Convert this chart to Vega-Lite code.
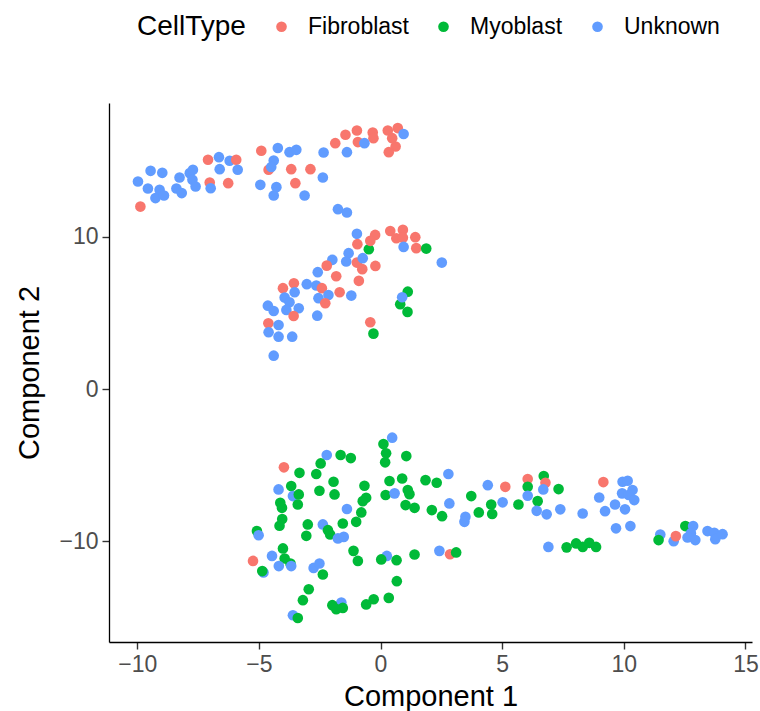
{
  "$schema": "https://vega.github.io/schema/vega-lite/v6.json",
  "width": 643,
  "height": 539,
  "autosize": {"type": "none"},
  "padding": {"left": 109, "top": 103, "right": 8, "bottom": 69},
  "background": "white",
  "config": {
    "font": "Liberation Sans",
    "view": {"stroke": null},
    "axis": {
      "grid": false,
      "domainColor": "black",
      "domainWidth": 1.3,
      "tickColor": "#333333",
      "tickWidth": 1.4,
      "tickSize": 7,
      "labelColor": "#4D4D4D",
      "labelFontSize": 23,
      "labelFont": "Liberation Sans",
      "titleFont": "Liberation Sans",
      "titleFontSize": 29,
      "titleFontWeight": "normal",
      "titleColor": "black"
    },
    "legend": {
      "orient": "none",
      "legendX": 28,
      "legendY": -88,
      "direction": "horizontal",
      "titleOrient": "left",
      "titleFontSize": 28,
      "titleFontWeight": "normal",
      "titleColor": "black",
      "titleFont": "Liberation Sans",
      "titlePadding": 24,
      "labelFontSize": 23,
      "labelColor": "black",
      "labelFont": "Liberation Sans",
      "labelOffset": 15,
      "columnPadding": 23,
      "symbolType": "circle",
      "symbolSize": 113,
      "symbolStrokeWidth": 0
    }
  },
  "data": {"values": [
    {"Component1": -9.97, "Component2": 13.64, "CellType": "Unknown"},
    {"Component1": -9.87, "Component2": 11.99, "CellType": "Fibroblast"},
    {"Component1": -9.45, "Component2": 14.34, "CellType": "Unknown"},
    {"Component1": -8.97, "Component2": 14.21, "CellType": "Unknown"},
    {"Component1": -9.56, "Component2": 13.18, "CellType": "Unknown"},
    {"Component1": -9.08, "Component2": 13.09, "CellType": "Unknown"},
    {"Component1": -9.25, "Component2": 12.55, "CellType": "Unknown"},
    {"Component1": -8.9, "Component2": 12.72, "CellType": "Unknown"},
    {"Component1": -8.39, "Component2": 13.18, "CellType": "Unknown"},
    {"Component1": -8.17, "Component2": 12.88, "CellType": "Unknown"},
    {"Component1": -8.26, "Component2": 13.9, "CellType": "Unknown"},
    {"Component1": -7.84, "Component2": 14.19, "CellType": "Unknown"},
    {"Component1": -7.71, "Component2": 14.41, "CellType": "Unknown"},
    {"Component1": -7.73, "Component2": 13.75, "CellType": "Unknown"},
    {"Component1": -7.6, "Component2": 13.31, "CellType": "Unknown"},
    {"Component1": -7.09, "Component2": 15.07, "CellType": "Fibroblast"},
    {"Component1": -6.64, "Component2": 15.24, "CellType": "Unknown"},
    {"Component1": -6.2, "Component2": 15.0, "CellType": "Unknown"},
    {"Component1": -5.93, "Component2": 15.07, "CellType": "Fibroblast"},
    {"Component1": -6.61, "Component2": 14.45, "CellType": "Unknown"},
    {"Component1": -5.87, "Component2": 14.41, "CellType": "Unknown"},
    {"Component1": -7.02, "Component2": 13.57, "CellType": "Fibroblast"},
    {"Component1": -6.98, "Component2": 13.2, "CellType": "Unknown"},
    {"Component1": -6.26, "Component2": 13.53, "CellType": "Fibroblast"},
    {"Component1": -4.9, "Component2": 15.66, "CellType": "Fibroblast"},
    {"Component1": -4.22, "Component2": 15.84, "CellType": "Unknown"},
    {"Component1": -4.6, "Component2": 14.41, "CellType": "Fibroblast"},
    {"Component1": -4.39, "Component2": 15.02, "CellType": "Unknown"},
    {"Component1": -4.49, "Component2": 14.59, "CellType": "Unknown"},
    {"Component1": -4.94, "Component2": 13.42, "CellType": "Unknown"},
    {"Component1": -4.28, "Component2": 13.27, "CellType": "Unknown"},
    {"Component1": -4.39, "Component2": 12.72, "CellType": "Unknown"},
    {"Component1": -3.74, "Component2": 15.57, "CellType": "Unknown"},
    {"Component1": -3.46, "Component2": 15.72, "CellType": "Unknown"},
    {"Component1": -3.67, "Component2": 14.45, "CellType": "Fibroblast"},
    {"Component1": -2.88, "Component2": 14.45, "CellType": "Fibroblast"},
    {"Component1": -2.37, "Component2": 13.9, "CellType": "Unknown"},
    {"Component1": -3.5, "Component2": 13.53, "CellType": "Fibroblast"},
    {"Component1": -3.12, "Component2": 12.72, "CellType": "Unknown"},
    {"Component1": -2.34, "Component2": 15.55, "CellType": "Unknown"},
    {"Component1": -1.86, "Component2": 16.16, "CellType": "Fibroblast"},
    {"Component1": -1.38, "Component2": 15.57, "CellType": "Unknown"},
    {"Component1": -1.44, "Component2": 16.71, "CellType": "Fibroblast"},
    {"Component1": -0.97, "Component2": 16.99, "CellType": "Fibroblast"},
    {"Component1": -0.93, "Component2": 16.23, "CellType": "Fibroblast"},
    {"Component1": -0.32, "Component2": 16.86, "CellType": "Fibroblast"},
    {"Component1": -0.29, "Component2": 16.49, "CellType": "Fibroblast"},
    {"Component1": -0.66, "Component2": 16.16, "CellType": "Unknown"},
    {"Component1": 0.3, "Component2": 16.99, "CellType": "Fibroblast"},
    {"Component1": 0.71, "Component2": 17.15, "CellType": "Fibroblast"},
    {"Component1": 0.48, "Component2": 16.49, "CellType": "Fibroblast"},
    {"Component1": 0.62, "Component2": 15.94, "CellType": "Fibroblast"},
    {"Component1": 0.34, "Component2": 15.57, "CellType": "Fibroblast"},
    {"Component1": 0.95, "Component2": 16.76, "CellType": "Unknown"},
    {"Component1": -1.75, "Component2": 11.82, "CellType": "Unknown"},
    {"Component1": -1.38, "Component2": 11.6, "CellType": "Unknown"},
    {"Component1": -0.97, "Component2": 10.2, "CellType": "Unknown"},
    {"Component1": -0.22, "Component2": 10.13, "CellType": "Fibroblast"},
    {"Component1": -0.48, "Component2": 9.19, "CellType": "Myoblast"},
    {"Component1": -0.42, "Component2": 9.74, "CellType": "Fibroblast"},
    {"Component1": -0.95, "Component2": 9.52, "CellType": "Fibroblast"},
    {"Component1": 0.4, "Component2": 10.39, "CellType": "Fibroblast"},
    {"Component1": 0.92, "Component2": 10.46, "CellType": "Fibroblast"},
    {"Component1": 0.65, "Component2": 9.91, "CellType": "Fibroblast"},
    {"Component1": 0.92, "Component2": 9.95, "CellType": "Fibroblast"},
    {"Component1": 1.43, "Component2": 9.98, "CellType": "Fibroblast"},
    {"Component1": 0.95, "Component2": 9.34, "CellType": "Unknown"},
    {"Component1": 1.47, "Component2": 9.26, "CellType": "Fibroblast"},
    {"Component1": 1.88, "Component2": 9.23, "CellType": "Myoblast"},
    {"Component1": 2.52, "Component2": 8.31, "CellType": "Unknown"},
    {"Component1": -1.98, "Component2": 8.49, "CellType": "Unknown"},
    {"Component1": -1.31, "Component2": 8.93, "CellType": "Unknown"},
    {"Component1": -1.41, "Component2": 8.38, "CellType": "Unknown"},
    {"Component1": -0.97, "Component2": 8.31, "CellType": "Fibroblast"},
    {"Component1": -0.73, "Component2": 8.6, "CellType": "Unknown"},
    {"Component1": -0.75, "Component2": 7.88, "CellType": "Fibroblast"},
    {"Component1": -0.21, "Component2": 8.09, "CellType": "Fibroblast"},
    {"Component1": -2.21, "Component2": 8.11, "CellType": "Fibroblast"},
    {"Component1": -2.58, "Component2": 7.68, "CellType": "Unknown"},
    {"Component1": -1.82, "Component2": 7.41, "CellType": "Fibroblast"},
    {"Component1": -0.89, "Component2": 7.11, "CellType": "Fibroblast"},
    {"Component1": -3.03, "Component2": 6.89, "CellType": "Unknown"},
    {"Component1": -2.64, "Component2": 6.8, "CellType": "Unknown"},
    {"Component1": -2.41, "Component2": 6.63, "CellType": "Fibroblast"},
    {"Component1": -2.14, "Component2": 6.18, "CellType": "Unknown"},
    {"Component1": -2.55, "Component2": 5.97, "CellType": "Unknown"},
    {"Component1": -2.27, "Component2": 5.64, "CellType": "Fibroblast"},
    {"Component1": -1.68, "Component2": 6.36, "CellType": "Fibroblast"},
    {"Component1": -1.2, "Component2": 6.14, "CellType": "Unknown"},
    {"Component1": -3.56, "Component2": 6.95, "CellType": "Fibroblast"},
    {"Component1": -4.01, "Component2": 6.63, "CellType": "Fibroblast"},
    {"Component1": -3.53, "Component2": 6.36, "CellType": "Unknown"},
    {"Component1": -3.94, "Component2": 6.01, "CellType": "Unknown"},
    {"Component1": -3.74, "Component2": 5.7, "CellType": "Unknown"},
    {"Component1": -4.63, "Component2": 5.48, "CellType": "Unknown"},
    {"Component1": -4.39, "Component2": 5.13, "CellType": "Unknown"},
    {"Component1": -3.87, "Component2": 5.2, "CellType": "Unknown"},
    {"Component1": -3.36, "Component2": 5.31, "CellType": "Unknown"},
    {"Component1": -3.57, "Component2": 4.8, "CellType": "Fibroblast"},
    {"Component1": -2.6, "Component2": 4.82, "CellType": "Unknown"},
    {"Component1": -4.61, "Component2": 4.32, "CellType": "Fibroblast"},
    {"Component1": -4.19, "Component2": 4.21, "CellType": "Unknown"},
    {"Component1": -4.6, "Component2": 3.73, "CellType": "Unknown"},
    {"Component1": -4.19, "Component2": 3.44, "CellType": "Unknown"},
    {"Component1": -3.63, "Component2": 3.44, "CellType": "Unknown"},
    {"Component1": -4.39, "Component2": 2.19, "CellType": "Unknown"},
    {"Component1": 1.12, "Component2": 6.4, "CellType": "Myoblast"},
    {"Component1": 0.81, "Component2": 5.57, "CellType": "Myoblast"},
    {"Component1": 1.11, "Component2": 5.07, "CellType": "Myoblast"},
    {"Component1": 0.89, "Component2": 6.03, "CellType": "Unknown"},
    {"Component1": -0.42, "Component2": 4.39, "CellType": "Fibroblast"},
    {"Component1": -0.29, "Component2": 3.64, "CellType": "Myoblast"},
    {"Component1": 0.48, "Component2": -3.2, "CellType": "Unknown"},
    {"Component1": 0.12, "Component2": -3.62, "CellType": "Myoblast"},
    {"Component1": 0.23, "Component2": -4.23, "CellType": "Myoblast"},
    {"Component1": 0.19, "Component2": -4.82, "CellType": "Myoblast"},
    {"Component1": -2.21, "Component2": -4.34, "CellType": "Unknown"},
    {"Component1": -1.64, "Component2": -4.34, "CellType": "Myoblast"},
    {"Component1": -1.22, "Component2": -4.54, "CellType": "Myoblast"},
    {"Component1": -3.97, "Component2": -5.15, "CellType": "Fibroblast"},
    {"Component1": -3.33, "Component2": -5.51, "CellType": "Myoblast"},
    {"Component1": -2.46, "Component2": -4.89, "CellType": "Myoblast"},
    {"Component1": -2.64, "Component2": -5.59, "CellType": "Myoblast"},
    {"Component1": -1.93, "Component2": -6.1, "CellType": "Myoblast"},
    {"Component1": -2.51, "Component2": -6.69, "CellType": "Myoblast"},
    {"Component1": -1.89, "Component2": -6.93, "CellType": "Myoblast"},
    {"Component1": -0.66, "Component2": -6.36, "CellType": "Myoblast"},
    {"Component1": 0.37, "Component2": -6.05, "CellType": "Myoblast"},
    {"Component1": 0.89, "Component2": -5.88, "CellType": "Myoblast"},
    {"Component1": 0.21, "Component2": -6.97, "CellType": "Myoblast"},
    {"Component1": 0.58, "Component2": -6.86, "CellType": "Unknown"},
    {"Component1": -4.19, "Component2": -6.6, "CellType": "Unknown"},
    {"Component1": -3.67, "Component2": -6.38, "CellType": "Myoblast"},
    {"Component1": -3.6, "Component2": -7.04, "CellType": "Unknown"},
    {"Component1": -3.36, "Component2": -6.93, "CellType": "Myoblast"},
    {"Component1": -3.4, "Component2": -7.59, "CellType": "Myoblast"},
    {"Component1": -4.12, "Component2": -7.48, "CellType": "Myoblast"},
    {"Component1": -4.05, "Component2": -7.81, "CellType": "Myoblast"},
    {"Component1": -0.59, "Component2": -7.15, "CellType": "Myoblast"},
    {"Component1": -0.73, "Component2": -7.37, "CellType": "Myoblast"},
    {"Component1": -1.38, "Component2": -7.89, "CellType": "Unknown"},
    {"Component1": -0.79, "Component2": -8.11, "CellType": "Myoblast"},
    {"Component1": -4.04, "Component2": -8.55, "CellType": "Myoblast"},
    {"Component1": -2.99, "Component2": -8.9, "CellType": "Myoblast"},
    {"Component1": -2.37, "Component2": -8.9, "CellType": "Unknown"},
    {"Component1": -1.55, "Component2": -8.84, "CellType": "Myoblast"},
    {"Component1": -1.0, "Component2": -8.73, "CellType": "Myoblast"},
    {"Component1": -4.15, "Component2": -8.99, "CellType": "Myoblast"},
    {"Component1": -5.08, "Component2": -9.34, "CellType": "Myoblast"},
    {"Component1": -5.01, "Component2": -9.61, "CellType": "Unknown"},
    {"Component1": -3.05, "Component2": -9.65, "CellType": "Myoblast"},
    {"Component1": -2.16, "Component2": -9.28, "CellType": "Myoblast"},
    {"Component1": -2.07, "Component2": -9.56, "CellType": "Myoblast"},
    {"Component1": -1.75, "Component2": -9.82, "CellType": "Unknown"},
    {"Component1": -1.51, "Component2": -9.72, "CellType": "Unknown"},
    {"Component1": -5.24, "Component2": -11.3, "CellType": "Fibroblast"},
    {"Component1": -4.81, "Component2": -12.06, "CellType": "Unknown"},
    {"Component1": -4.86, "Component2": -11.97, "CellType": "Myoblast"},
    {"Component1": -4.46, "Component2": -10.97, "CellType": "Unknown"},
    {"Component1": -4.01, "Component2": -10.48, "CellType": "Myoblast"},
    {"Component1": -3.94, "Component2": -11.14, "CellType": "Myoblast"},
    {"Component1": -3.7, "Component2": -11.47, "CellType": "Myoblast"},
    {"Component1": -3.67, "Component2": -11.64, "CellType": "Unknown"},
    {"Component1": -4.18, "Component2": -11.64, "CellType": "Unknown"},
    {"Component1": -2.75, "Component2": -11.76, "CellType": "Unknown"},
    {"Component1": -2.51, "Component2": -11.47, "CellType": "Unknown"},
    {"Component1": -2.37, "Component2": -12.19, "CellType": "Myoblast"},
    {"Component1": -1.11, "Component2": -10.64, "CellType": "Myoblast"},
    {"Component1": -0.93, "Component2": -11.3, "CellType": "Myoblast"},
    {"Component1": 0.26, "Component2": -10.97, "CellType": "Unknown"},
    {"Component1": 0.03, "Component2": -11.2, "CellType": "Myoblast"},
    {"Component1": 0.66, "Component2": -11.25, "CellType": "Myoblast"},
    {"Component1": 0.67, "Component2": -12.63, "CellType": "Myoblast"},
    {"Component1": -2.95, "Component2": -13.16, "CellType": "Myoblast"},
    {"Component1": -3.19, "Component2": -13.88, "CellType": "Myoblast"},
    {"Component1": -1.61, "Component2": -14.03, "CellType": "Unknown"},
    {"Component1": -1.98, "Component2": -14.21, "CellType": "Myoblast"},
    {"Component1": -1.82, "Component2": -14.47, "CellType": "Myoblast"},
    {"Component1": -1.55, "Component2": -14.39, "CellType": "Myoblast"},
    {"Component1": -0.28, "Component2": -13.82, "CellType": "Myoblast"},
    {"Component1": -0.59, "Component2": -14.16, "CellType": "Myoblast"},
    {"Component1": 0.34, "Component2": -13.73, "CellType": "Myoblast"},
    {"Component1": -3.6, "Component2": -14.87, "CellType": "Unknown"},
    {"Component1": -3.4, "Component2": -15.05, "CellType": "Myoblast"},
    {"Component1": 1.06, "Component2": -4.41, "CellType": "Myoblast"},
    {"Component1": 1.12, "Component2": -6.64, "CellType": "Myoblast"},
    {"Component1": 1.19, "Component2": -6.91, "CellType": "Myoblast"},
    {"Component1": 1.85, "Component2": -5.99, "CellType": "Myoblast"},
    {"Component1": 2.31, "Component2": -6.16, "CellType": "Myoblast"},
    {"Component1": 2.79, "Component2": -5.59, "CellType": "Unknown"},
    {"Component1": 1.03, "Component2": -7.63, "CellType": "Myoblast"},
    {"Component1": 1.4, "Component2": -7.81, "CellType": "Myoblast"},
    {"Component1": 2.11, "Component2": -7.96, "CellType": "Myoblast"},
    {"Component1": 2.53, "Component2": -8.36, "CellType": "Myoblast"},
    {"Component1": 2.83, "Component2": -7.52, "CellType": "Unknown"},
    {"Component1": 3.49, "Component2": -8.4, "CellType": "Unknown"},
    {"Component1": 3.45, "Component2": -8.73, "CellType": "Unknown"},
    {"Component1": 3.73, "Component2": -7.04, "CellType": "Myoblast"},
    {"Component1": 4.04, "Component2": -8.11, "CellType": "Myoblast"},
    {"Component1": 4.55, "Component2": -7.59, "CellType": "Myoblast"},
    {"Component1": 4.59, "Component2": -8.22, "CellType": "Myoblast"},
    {"Component1": 4.41, "Component2": -6.32, "CellType": "Unknown"},
    {"Component1": 5.13, "Component2": -6.43, "CellType": "Fibroblast"},
    {"Component1": 5.02, "Component2": -7.45, "CellType": "Unknown"},
    {"Component1": 5.67, "Component2": -7.59, "CellType": "Myoblast"},
    {"Component1": 6.05, "Component2": -5.92, "CellType": "Fibroblast"},
    {"Component1": 6.05, "Component2": -6.43, "CellType": "Myoblast"},
    {"Component1": 6.05, "Component2": -7.02, "CellType": "Unknown"},
    {"Component1": 6.71, "Component2": -5.72, "CellType": "Myoblast"},
    {"Component1": 6.78, "Component2": -6.16, "CellType": "Fibroblast"},
    {"Component1": 6.69, "Component2": -6.6, "CellType": "Unknown"},
    {"Component1": 6.46, "Component2": -7.37, "CellType": "Myoblast"},
    {"Component1": 6.42, "Component2": -8.01, "CellType": "Unknown"},
    {"Component1": 6.83, "Component2": -8.24, "CellType": "Unknown"},
    {"Component1": 7.32, "Component2": -6.58, "CellType": "Myoblast"},
    {"Component1": 7.39, "Component2": -7.91, "CellType": "Unknown"},
    {"Component1": 8.31, "Component2": -8.18, "CellType": "Unknown"},
    {"Component1": 2.42, "Component2": -10.64, "CellType": "Unknown"},
    {"Component1": 2.86, "Component2": -10.86, "CellType": "Fibroblast"},
    {"Component1": 3.11, "Component2": -10.74, "CellType": "Myoblast"},
    {"Component1": 1.4, "Component2": -10.88, "CellType": "Myoblast"},
    {"Component1": 6.9, "Component2": -10.38, "CellType": "Unknown"},
    {"Component1": 7.65, "Component2": -10.41, "CellType": "Myoblast"},
    {"Component1": 8.04, "Component2": -10.15, "CellType": "Myoblast"},
    {"Component1": 8.31, "Component2": -10.38, "CellType": "Myoblast"},
    {"Component1": 8.58, "Component2": -10.11, "CellType": "Myoblast"},
    {"Component1": 8.86, "Component2": -10.38, "CellType": "Myoblast"},
    {"Component1": 9.16, "Component2": -6.12, "CellType": "Fibroblast"},
    {"Component1": 9.95, "Component2": -6.1, "CellType": "Unknown"},
    {"Component1": 10.16, "Component2": -6.03, "CellType": "Unknown"},
    {"Component1": 9.93, "Component2": -6.86, "CellType": "Unknown"},
    {"Component1": 10.36, "Component2": -6.64, "CellType": "Unknown"},
    {"Component1": 10.2, "Component2": -6.97, "CellType": "Unknown"},
    {"Component1": 10.43, "Component2": -7.3, "CellType": "Unknown"},
    {"Component1": 8.99, "Component2": -7.13, "CellType": "Unknown"},
    {"Component1": 9.64, "Component2": -7.59, "CellType": "Unknown"},
    {"Component1": 10.05, "Component2": -7.91, "CellType": "Unknown"},
    {"Component1": 9.23, "Component2": -8.03, "CellType": "Unknown"},
    {"Component1": 9.68, "Component2": -9.16, "CellType": "Unknown"},
    {"Component1": 10.27, "Component2": -9.01, "CellType": "Unknown"},
    {"Component1": 11.5, "Component2": -9.56, "CellType": "Unknown"},
    {"Component1": 11.43, "Component2": -9.93, "CellType": "Myoblast"},
    {"Component1": 12.05, "Component2": -10.0, "CellType": "Unknown"},
    {"Component1": 12.14, "Component2": -9.67, "CellType": "Fibroblast"},
    {"Component1": 12.53, "Component2": -9.01, "CellType": "Myoblast"},
    {"Component1": 12.85, "Component2": -9.01, "CellType": "Unknown"},
    {"Component1": 12.76, "Component2": -9.49, "CellType": "Unknown"},
    {"Component1": 12.62, "Component2": -9.76, "CellType": "Unknown"},
    {"Component1": 12.94, "Component2": -9.93, "CellType": "Unknown"},
    {"Component1": 13.44, "Component2": -9.34, "CellType": "Unknown"},
    {"Component1": 13.72, "Component2": -9.45, "CellType": "Unknown"},
    {"Component1": 13.76, "Component2": -9.87, "CellType": "Unknown"},
    {"Component1": 14.06, "Component2": -9.54, "CellType": "Unknown"}
  ]},
  "mark": {"type": "circle", "size": 113, "opacity": 1, "strokeWidth": 0},
  "encoding": {
    "x": {
      "field": "Component1", "type": "quantitative", "title": "Component 1",
      "scale": {"domain": [-11.16, 15.27], "nice": false, "zero": false},
      "axis": {"values": [-10, -5, 0, 5, 10, 15], "labelPadding": 4, "titlePadding": 6}
    },
    "y": {
      "field": "Component2", "type": "quantitative", "title": "Component 2",
      "scale": {"domain": [-16.63, 18.8], "nice": false, "zero": false},
      "axis": {"values": [-10, 0, 10], "labelPadding": 4, "titlePadding": 14}
    },
    "color": {
      "field": "CellType", "type": "nominal", "title": "CellType",
      "scale": {"domain": ["Fibroblast", "Myoblast", "Unknown"], "range": ["#F8766D", "#00BA38", "#619CFF"]}
    }
  }
}
